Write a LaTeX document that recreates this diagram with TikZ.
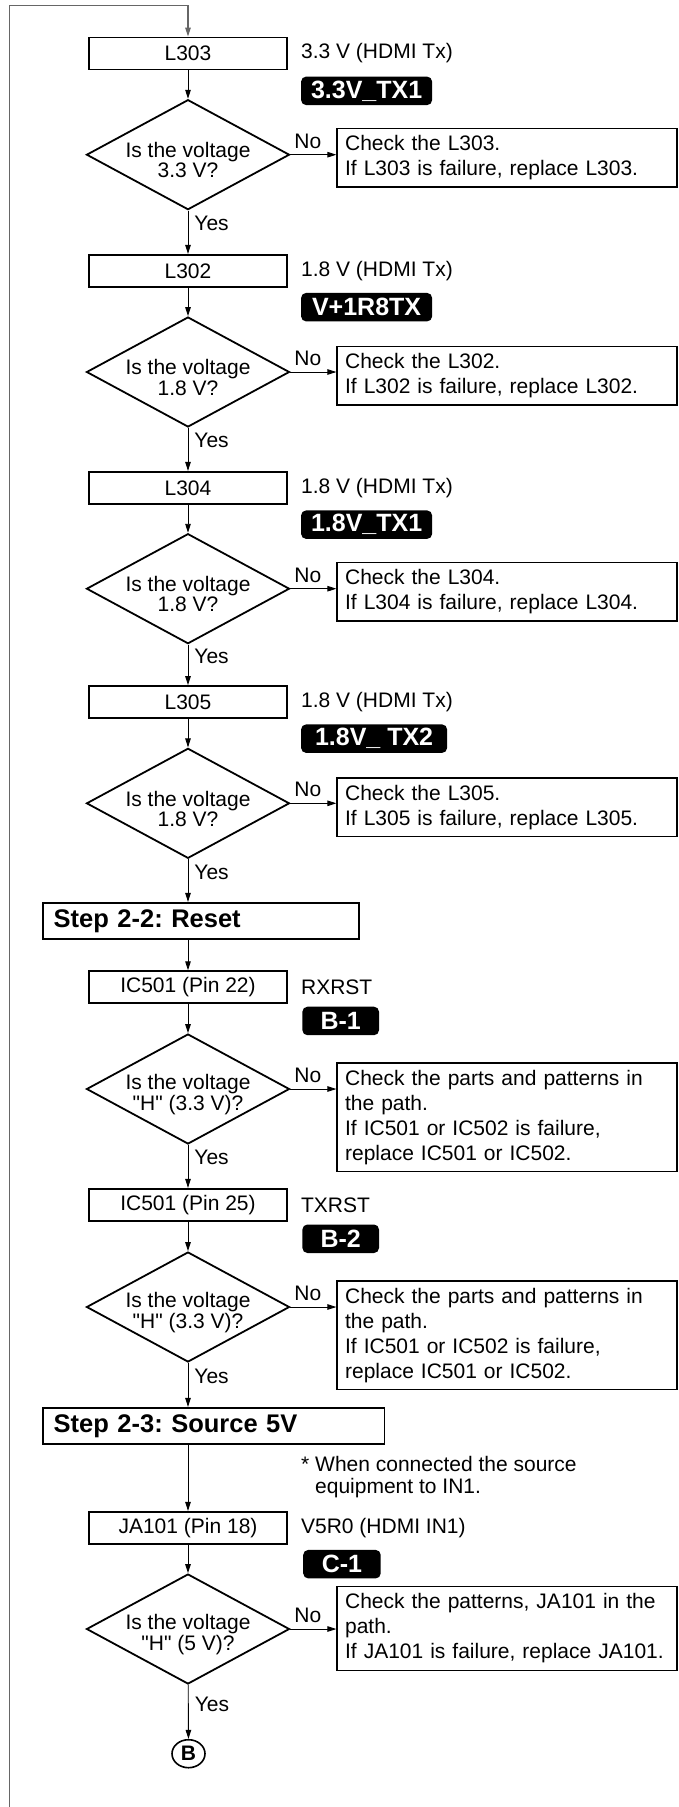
\documentclass[tikz,border=0pt]{standalone}
\usepackage{fontspec}
\setmainfont{Liberation Sans}
\frenchspacing
\usepackage{tikz}
\usetikzlibrary{arrows.meta,shapes.geometric,positioning,calc}

\begin{document}
\begin{tikzpicture}[x=1pt, y=-1pt,
    part/.style={draw, line width=1.8pt, minimum width=198pt, minimum height=32pt, inner sep=0pt, font=\fontsize{21}{25}\selectfont},
    stepbox/.style={draw, line width=1.8pt, minimum height=36pt, inner xsep=10.4pt, inner ysep=0pt, anchor=west, align=left, font=\fontsize{25.5}{30}\selectfont\bfseries},
    ask/.style={draw, diamond, line width=1.8pt, aspect=1.83, minimum width=203pt, minimum height=110pt, inner sep=0pt},
    qtxt/.style={align=center, inner sep=0pt, yshift=-5.5pt, font=\fontsize{21}{20.5}\selectfont},
    chk/.style={draw, line width=1.4pt, text width=324pt, inner xsep=8pt, inner ysep=7pt, align=left, anchor=north west, font=\fontsize{21}{25}\selectfont},
    badge/.style={fill=black, text=white, rounded corners=5pt, minimum height=28.5pt, inner sep=0pt, anchor=north west, font=\fontsize{25}{25}\selectfont\bfseries},
    note/.style={inner sep=0pt, align=left, anchor=north west, font=\fontsize{21}{21.6}\selectfont},
    lbl/.style={inner sep=0pt, font=\fontsize{21}{25}\selectfont},
    arr/.style={-{Triangle[length=9pt,width=5.5pt]}, line width=0.9pt},
    loopln/.style={-{Triangle[length=9pt,width=5.5pt]}, draw=black!60, line width=1.3pt},
    conn/.style={draw, ellipse, line width=1.6pt, minimum width=33pt, minimum height=28pt, inner sep=0pt, font=\fontsize{21}{21}\selectfont\bfseries}
]
\useasboundingbox (0,0) rectangle (678,1807);

% Step 2-1 supplies
\node[part] (L303) at (188,53.5) {L303};
\node[lbl, right=13pt of L303] (v303) {3.3 V (HDMI Tx)};
\node[badge, minimum width=131pt] (b303) at ([shift={(13pt,-6pt)}]L303.south east) {3.3V\_TX1};
\node[ask, label={[qtxt]center:{Is the voltage\\3.3 V?}}] (q303) at (188,154.7) {};
\node[chk] (c303) at (336.4,127.7) {Check the L303.\\If L303 is failure, replace L303.};

\node[part] (L302) at (188,270.8) {L302};
\node[lbl, right=13pt of L302] (v302) {1.8 V (HDMI Tx)};
\node[badge, minimum width=131pt] (b302) at ([shift={(13pt,-5pt)}]L302.south east) {V+1R8TX};
\node[ask, label={[qtxt]center:{Is the voltage\\1.8 V?}}] (q302) at (188,372) {};
\node[chk] (c302) at (336.4,345.7) {Check the L302.\\If L302 is failure, replace L302.};

\node[part] (L304) at (188,487.8) {L304};
\node[lbl, right=13pt of L304] (v304) {1.8 V (HDMI Tx)};
\node[badge, minimum width=131pt] (b304) at ([shift={(13pt,-5.5pt)}]L304.south east) {1.8V\_TX1};
\node[ask, label={[qtxt]center:{Is the voltage\\1.8 V?}}] (q304) at (188,588.7) {};
\node[chk] (c304) at (336.4,561.7) {Check the L304.\\If L304 is failure, replace L304.};

\node[part] (L305) at (188,702) {L305};
\node[lbl, right=13pt of L305] (v305) {1.8 V (HDMI Tx)};
\node[badge, minimum width=146pt] (b305) at ([shift={(13pt,-5.3pt)}]L305.south east) {1.8V\_ TX2};
\node[ask, label={[qtxt]center:{Is the voltage\\1.8 V?}}] (q305) at (188,803.3) {};
\node[chk] (c305) at (336.4,777.3) {Check the L305.\\If L305 is failure, replace L305.};

% Step 2-2
\node[stepbox, text width=295.2pt] (S22) at (42.4,920.8) {Step 2-2: Reset};

\node[part] (P22) at (188,987.2) {IC501 (Pin 22)};
\node[lbl, right=13pt of P22] (rx) {RXRST};
\node[badge, minimum width=76.6pt] (B1) at ([shift={(14.3pt,-2.4pt)}]P22.south east) {B-1};
\node[ask, label={[qtxt]center:{Is the voltage\\\textquotedbl H\textquotedbl{} (3.3 V)?}}] (q22) at (188,1089) {};
\node[chk] (c22) at (336.4,1062.3) {Check the parts and patterns in\\the path.\\If IC501 or IC502 is failure,\\replace IC501 or IC502.};

\node[part] (P25) at (188,1204.8) {IC501 (Pin 25)};
\node[lbl, right=13pt of P25] (tx) {TXRST};
\node[badge, minimum width=76.6pt] (B2) at ([shift={(14.3pt,-2.6pt)}]P25.south east) {B-2};
\node[ask, label={[qtxt]center:{Is the voltage\\\textquotedbl H\textquotedbl{} (3.3 V)?}}] (q25) at (188,1307) {};
\node[chk] (c25) at (336.4,1280.3) {Check the parts and patterns in\\the path.\\If IC501 or IC502 is failure,\\replace IC501 or IC502.};

% Step 2-3
\node[stepbox, text width=320.3pt] (S23) at (42.4,1425.8) {Step 2-3: Source 5V};
\node[note] (nt) at (301,1456.5) {* When connected the source\\\phantom{* }equipment to IN1.};

\node[part] (JA) at (188,1527.8) {JA101 (Pin 18)};
\node[lbl, right=13pt of JA] (v5) {V5R0 (HDMI IN1)};
\node[badge, minimum width=77.5pt] (C1) at ([shift={(15.1pt,-5pt)}]JA.south east) {C-1};
\node[ask, label={[qtxt]center:{Is the voltage\\\textquotedbl H\textquotedbl{} (5 V)?}}] (qJA) at (188,1629) {};
\node[chk] (cJA) at (336.4,1586) {Check the patterns, JA101 in the\\path.\\If JA101 is failure, replace JA101.};

\node[conn] (B) at (188.5,1753.7) {B};

% loop back from the left
\coordinate (lpbot) at (9.5,1807);
\coordinate (lptop) at (188,5.7);
\draw[loopln] (lpbot) |- (lptop) -- (L303);

\draw[arr] (L303) -- (q303);
\draw[arr] (q303) -- node[lbl, above=6pt, pos=0.38] {No} (c303.west |- q303);
\draw[arr] (q303) -- node[lbl, right=6pt, pos=0.3] {Yes} (L302);
\draw[arr] (L302) -- (q302);
\draw[arr] (q302) -- node[lbl, above=6pt, pos=0.38] {No} (c302.west |- q302);
\draw[arr] (q302) -- node[lbl, right=6pt, pos=0.3] {Yes} (L304);
\draw[arr] (L304) -- (q304);
\draw[arr] (q304) -- node[lbl, above=6pt, pos=0.38] {No} (c304.west |- q304);
\draw[arr] (q304) -- node[lbl, right=6pt, pos=0.3] {Yes} (L305);
\draw[arr] (L305) -- (q305);
\draw[arr] (q305) -- node[lbl, above=6pt, pos=0.38] {No} (c305.west |- q305);
\draw[arr] (q305) -- node[lbl, right=6pt, pos=0.3] {Yes} (q305 |- S22.north);

\draw[arr] (P22 |- S22.south) -- (P22);
\draw[arr] (P22) -- (q22);
\draw[arr] (q22) -- node[lbl, above=6pt, pos=0.38] {No} (c22.west |- q22);
\draw[arr] (q22) -- node[lbl, right=6pt, pos=0.3] {Yes} (P25);
\draw[arr] (P25) -- (q25);
\draw[arr] (q25) -- node[lbl, above=6pt, pos=0.38] {No} (c25.west |- q25);
\draw[arr] (q25) -- node[lbl, right=6pt, pos=0.3] {Yes} (q25 |- S23.north);

\draw[arr] (JA |- S23.south) -- (JA);
\draw[arr] (JA) -- (qJA);
\draw[arr] (qJA) -- node[lbl, above=6pt, pos=0.38] {No} (cJA.west |- qJA);
\draw[arr] (qJA) -- node[lbl, right=6pt, pos=0.37] {Yes} (B);
\end{tikzpicture}
\end{document}
